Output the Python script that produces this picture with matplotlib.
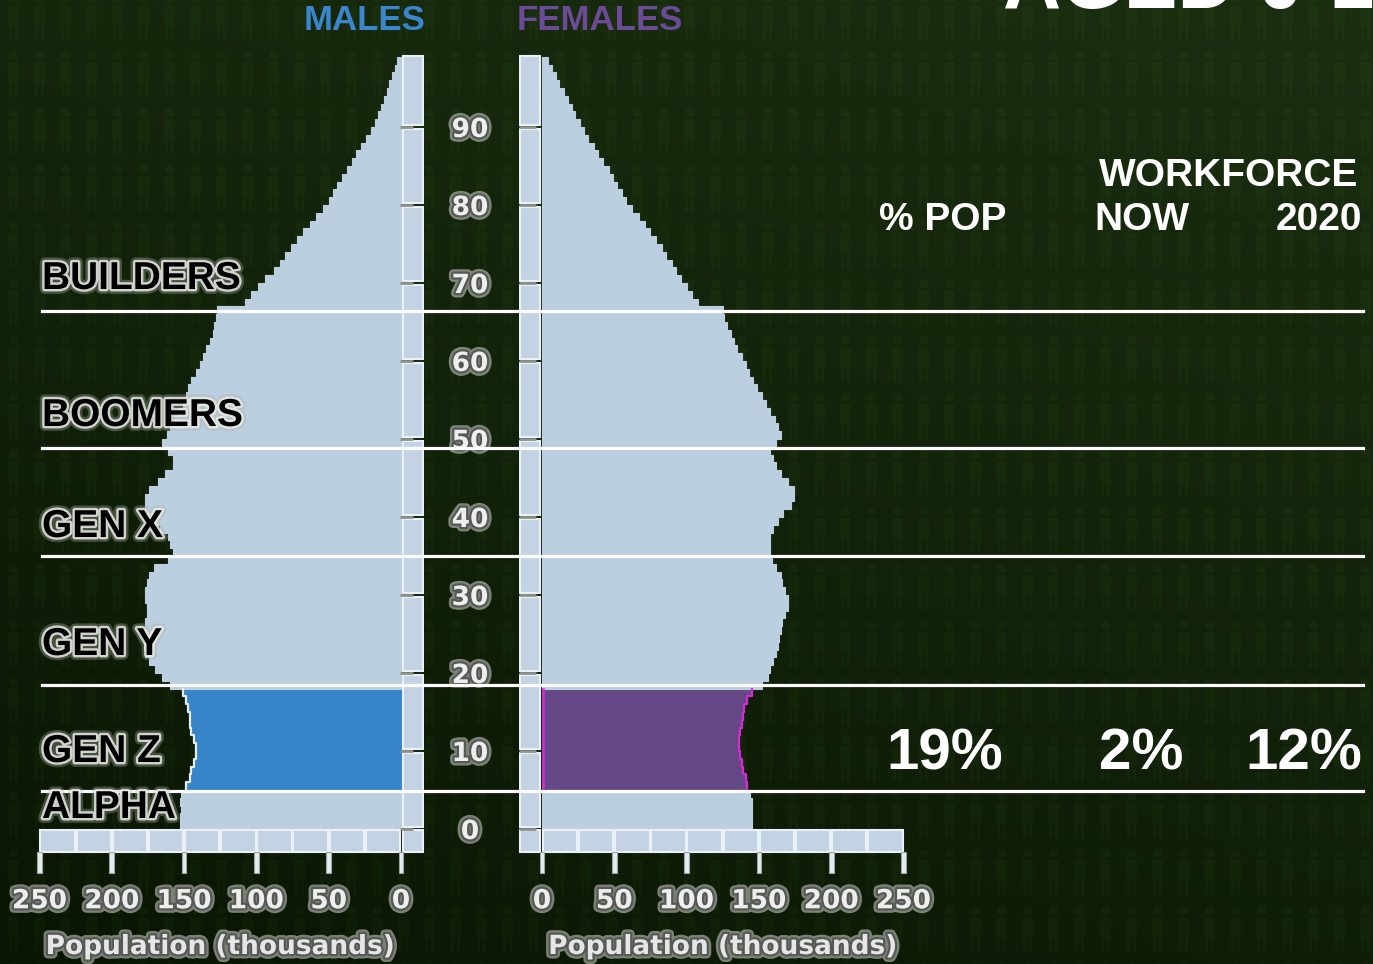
import numpy as np
import matplotlib
matplotlib.use('Agg')
import matplotlib.pyplot as plt
import matplotlib.patheffects as pe
import matplotlib.transforms as mtransforms
from matplotlib.lines import Line2D
from matplotlib.patches import Rectangle

W, H = 1373, 964

# population by single year of age (thousands), ages 0..98
ages = np.arange(0, 99)
males = [153, 153, 152, 153, 152, 149, 146, 145, 143, 142,
         142, 143, 145, 146, 146, 147, 149, 151, 160, 165,
         170, 174, 177, 178, 178, 177, 177, 176, 176, 177,
         177, 176, 174, 171, 161, 158, 160, 161, 167, 174,
         176, 177, 177, 174, 168, 163, 158, 158, 161, 165,
         162, 160, 157, 154, 151, 149, 147, 145, 142, 139,
         137, 135, 132, 130, 129, 128, 127, 108, 104, 99,
         94, 88, 84, 80, 76, 72, 68, 63, 59, 54,
         50, 47, 44, 41, 37, 34, 31, 28, 24, 21,
         18, 16, 14, 12, 10, 8, 6, 4, 3]
females = [145, 145, 145, 145, 144, 142, 141, 139, 138, 137,
           136, 136, 137, 138, 139, 140, 142, 145, 152, 156,
           158, 160, 162, 163, 164, 165, 166, 168, 170, 170,
           168, 166, 165, 162, 159, 158, 158, 158, 160, 163,
           167, 172, 174, 174, 170, 165, 162, 160, 158, 162,
           165, 163, 161, 158, 155, 152, 149, 146, 143, 141,
           138, 135, 133, 131, 128, 126, 125, 108, 104, 100,
           96, 93, 90, 86, 83, 79, 75, 71, 67, 62,
           58, 55, 52, 49, 46, 42, 39, 36, 32, 29,
           26, 23, 21, 18, 15, 12, 10, 7, 4]

genz_first, genz_last = 5, 17
gen_bounds = [4.9, 18.45, 35.0, 48.8, 66.4]
gen_labels = ['BUILDERS', 'BOOMERS', 'GEN X', 'GEN Y', 'GEN Z', 'ALPHA']
gen_label_px = [279, 416, 527, 645, 752, 808]

x_ticks = [0, 50, 100, 150, 200, 250]
age_ticks = list(range(0, 100, 10))

stat_headers = ['% POP', 'NOW', '2020']
genz_stats = [19, 2, 12]

light = '#bccfe0'
blue = '#3784c8'
purple = '#654686'

# --- background: dark green gradient with faint people pattern ---
yy, xx = np.mgrid[0:H, 0:W]
f = 0.6 * (1 - yy / H) + 0.3 * (xx / W) + 0.05
f = np.clip(f, 0, 1)[..., None]
dark = np.array([9, 20, 2]) / 255
bright = np.array([28, 48, 17]) / 255
bg = dark + (bright - dark) * f
lx = xx % 26
ly = (yy + 12) % 57
head = (lx - 13) ** 2 + (ly - 10) ** 2 < 22
body = (np.abs(lx - 13) < 6) & (ly > 16) & (ly < 38)
legs = (ly >= 38) & (ly < 52) & ((np.abs(lx - 10) < 2) | (np.abs(lx - 16) < 2))
people = (head | body | legs)[..., None]
bg = bg + people * np.array([3, 6, 2]) / 255
bg = np.clip(bg, 0, 1)

fig = plt.figure(figsize=(W / 100, H / 100), dpi=100)
bg_ax = fig.add_axes([0, 0, 1, 1], zorder=-1)
bg_ax.imshow(bg, extent=[0, W, H, 0], aspect='auto', interpolation='bilinear')
bg_ax.set_xlim(0, W)
bg_ax.set_ylim(H, 0)
bg_ax.axis('off')

SCALE = 1.446          # px per thousand
YS = 7.8               # px per year of age
Y0 = 829               # px of age 0
male_zero, female_zero = 401, 542
ylim = (-6, 101)


def px_rect(x0, x1, ytop, ybot):
    return [x0 / W, 1 - ybot / H, (x1 - x0) / W, (ybot - ytop) / H]


ytop_px = Y0 - ylim[1] * YS
ybot_px = Y0 - ylim[0] * YS
ax_m = fig.add_axes(px_rect(male_zero - 256 * SCALE, male_zero + 16 * SCALE, ytop_px, ybot_px))
ax_f = fig.add_axes(px_rect(female_zero - 16 * SCALE, female_zero + 256 * SCALE, ytop_px, ybot_px))
ax_m.set_xlim(256, -16)
ax_f.set_xlim(-16, 256)

m_colors = [blue if genz_first <= a <= genz_last else light for a in ages]
f_colors = [purple if genz_first <= a <= genz_last else light for a in ages]
ax_m.barh(ages, males, height=1, align='edge', color=m_colors, edgecolor=m_colors, linewidth=0.8)
ax_f.barh(ages, females, height=1, align='edge', color=f_colors, edgecolor=f_colors, linewidth=0.8)

# edge highlight around the Gen Z band
gz = np.arange(genz_first, genz_last + 1)
ys = np.column_stack([gz, gz + 1]).ravel()
mx = np.repeat(np.array(males)[gz], 2)
fx = np.repeat(np.array(females)[gz], 2)
ax_m.plot(mx, ys, color='#e4ecf4', lw=1.6, zorder=3)
ax_f.plot(fx, ys, color='#d42ad4', lw=1.6, zorder=3)
ax_f.plot([0.6, 0.6], [genz_first, genz_last + 1], color='#d42ad4', lw=1.8, zorder=3)

cell_face = '#c3d3e3'
cell_edge = '#e9f0f7'
for ax in (ax_m, ax_f):
    ax.set_ylim(*ylim)
    ax.patch.set_alpha(0)
    for s in ax.spines.values():
        s.set_visible(False)
    # vertical column beside the age scale
    for k in range(10):
        top = min(k * 10 + 10, 99.3)
        ax.add_patch(Rectangle((-15.2, k * 10 + 0.25), 14, top - k * 10 - 0.5,
                               facecolor=cell_face, edgecolor=cell_edge, lw=1.5, zorder=2))
    ax.add_patch(Rectangle((-15.2, -2.95), 14, 2.8, facecolor=cell_face,
                           edgecolor=cell_edge, lw=1.5, zorder=2, clip_on=False))
    # horizontal population scale cells
    for v in range(0, 250, 25):
        ax.add_patch(Rectangle((v + 0.6, -2.95), 23.8, 2.8, facecolor=cell_face,
                               edgecolor=cell_edge, lw=1.5, zorder=2, clip_on=False))
    for t in x_ticks:
        ax.add_patch(Rectangle((t - 1.6, -5.6), 3.2, 2.65, facecolor='#e6ecf2',
                               edgecolor='#9aa3a0', lw=0.8, zorder=2, clip_on=False))

for t in age_ticks:
    ax_m.plot([1.0, -8], [t, t], color='#8c9488', lw=2, solid_capstyle='butt', zorder=3)
    ax_f.plot([-16, -4], [t, t], color='#8c9488', lw=2, solid_capstyle='butt', zorder=3)

emboss = [pe.Stroke(linewidth=6.5, foreground='#d6d9d2', alpha=0.55),
          pe.Stroke(linewidth=3.2, foreground='#555a55'),
          pe.Normal()]
tick_font = dict(family='DejaVu Sans', weight='bold', size=19)

for ax in (ax_m, ax_f):
    ax.set_xticks(x_ticks)
    ax.set_xticklabels([str(t) for t in x_ticks])
    ax.tick_params(axis='x', length=0, pad=9)
    for lbl in ax.get_xticklabels():
        lbl.set(color='#eeeeee', path_effects=emboss, **tick_font)
    ax.set_xlabel('Population (thousands)', color='#e6e6e6', path_effects=emboss,
                  va='center', **tick_font)

ax_m.xaxis.set_label_coords((256 - 125) / 272, (ybot_px - 947) / (ybot_px - ytop_px))
ax_f.xaxis.set_label_coords((16 + 125) / 272, (ybot_px - 947) / (ybot_px - ytop_px))

ax_m.set_yticks([])
ax_f.set_yticks(age_ticks)
ax_f.set_yticklabels([str(t) for t in age_ticks])
ax_f.tick_params(axis='y', length=0, pad=(female_zero - 16 * SCALE - 470) * 0.72)
for lbl in ax_f.get_yticklabels():
    lbl.set(color='#eeeeee', path_effects=emboss, ha='center', **tick_font)

# generation boundaries across the whole slide
tr = mtransforms.blended_transform_factory(fig.transFigure, ax_m.transData)
for b in gen_bounds:
    fig.add_artist(Line2D([42 / W, 1363 / W], [b, b], transform=tr, color='white',
                          lw=2.3, zorder=5))

glow = [pe.Stroke(linewidth=7, foreground='#a9b0a2', alpha=0.35),
        pe.Stroke(linewidth=3.5, foreground='#e8ebe6', alpha=0.85),
        pe.Normal()]
for name, ypx in zip(gen_labels, gen_label_px):
    fig.text(42 / W, 1 - ypx / H, name, ha='left', va='center', color='black',
             family='Liberation Sans', weight='bold', size=28, path_effects=glow, zorder=6)

head_font = dict(family='Liberation Sans', weight='bold')
fig.text(365 / W, 1 - 21 / H, 'MALES', ha='center', va='center', color='#3a86cc', size=25, **head_font)
fig.text(600 / W, 1 - 21 / H, 'FEMALES', ha='center', va='center', color='#6b4a96', size=25, **head_font)
# slide title, running off the top edge
fig.text(1003 / W, 1 - 8 / H, 'AGED 0-14', ha='left', va='baseline', color='white', size=58, **head_font)

fig.text(1229 / W, 1 - 176 / H, 'WORKFORCE', ha='center', va='center', color='white', size=28, **head_font)
for label, xpx in zip(stat_headers, [943, 1142, 1319]):
    fig.text(xpx / W, 1 - 220 / H, label, ha='center', va='center', color='white', size=28, **head_font)
for val, xpx in zip(genz_stats, [945, 1141, 1304]):
    fig.text(xpx / W, 1 - 755 / H, f'{val}%', ha='center', va='center', color='white', size=42, **head_font)

fig.savefig('out.png', dpi=100)
